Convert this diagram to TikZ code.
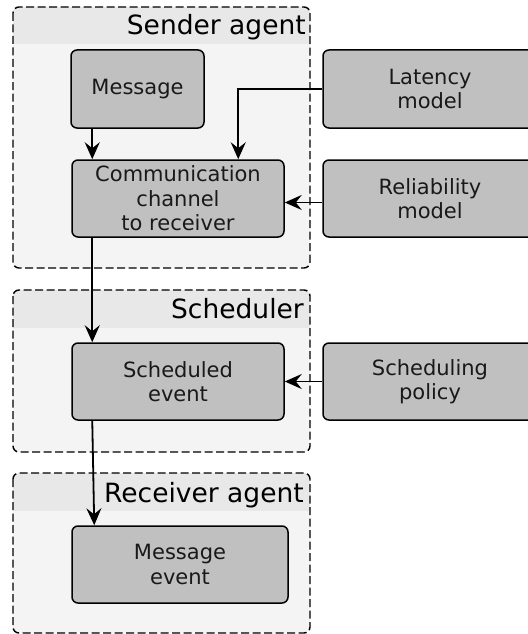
\documentclass[tikz,border=0pt]{standalone}
\usepackage{fontspec}
\setmainfont{DejaVu Sans}
\usetikzlibrary{arrows.meta}

\definecolor{boxgray}{HTML}{C0C0C0}
\definecolor{bodygray}{HTML}{F4F4F4}
\definecolor{headgray}{HTML}{E8E8E8}

\tikzset{
  block/.style={draw, line width=1.5pt, fill=boxgray, rounded corners=6pt,
    inner sep=0pt, align=center, text=black!90,
    font=\fontsize{21}{24.5}\selectfont},
  frame/.style={draw, dash pattern=on 8pt off 3.5pt, line width=1.4pt, rounded corners=6pt},
  heading/.style={anchor=base east, inner sep=0pt, font=\fontsize{26.5}{30}\selectfont},
  conn/.style={line width=1.8pt, -{Stealth[length=17pt,width=15pt,inset=6pt]}}
}

\begin{document}
\begin{tikzpicture}[x=1pt,y=-1pt]
 \useasboundingbox (0,0) rectangle (527,634);
 % containers
 \fill[bodygray, rounded corners=6pt] (13,7) rectangle (310,268);
 \begin{scope}
  \clip[rounded corners=6pt] (13,7) rectangle (310,268);
  \fill[headgray] (13,7) rectangle (310,44);
 \end{scope}
 \draw[frame] (13,7) rectangle (310,268);
 \node[heading] (tsend) at (306,35) {Sender agent};

 \fill[bodygray, rounded corners=6pt] (13,290) rectangle (310,452);
 \begin{scope}
  \clip[rounded corners=6pt] (13,290) rectangle (310,452);
  \fill[headgray] (13,290) rectangle (310,328);
 \end{scope}
 \draw[frame] (13,290) rectangle (310,452);
 \node[heading] (tsched) at (304,318) {Scheduler};

 \fill[bodygray, rounded corners=6pt] (13,473) rectangle (310,633);
 \begin{scope}
  \clip[rounded corners=6pt] (13,473) rectangle (310,633);
  \fill[headgray] (13,473) rectangle (310,511);
 \end{scope}
 \draw[frame] (13,473) rectangle (310,633);
 \node[heading] (trecv) at (304,502) {Receiver agent};

 % blocks
 \node[block, minimum width=133pt, minimum height=78pt] (msg) at (137.5,89) {Message};
 \node[block, minimum width=212pt, minimum height=77pt] (comm) at (178,198.5) {Communication\\channel\\to receiver};
 \node[block, minimum width=214pt, minimum height=78pt] (lat) at (430,89) {Latency\\model};
 \node[block, minimum width=214pt, minimum height=77pt] (rel) at (430,198.5) {Reliability\\model};
 \node[block, minimum width=212pt, minimum height=77pt] (sched) at (178,381.5) {Scheduled\\event};
 \node[block, minimum width=214pt, minimum height=77pt] (pol) at (430,381.5) {Scheduling\\policy};
 \node[block, minimum width=216pt, minimum height=77pt] (msgev) at (180,564.5) {Message\\event};

 % connectors
 \draw[conn] ([xshift=22pt]msg.south west) -- ([xshift=21pt]comm.north west);
 \draw[conn] (lat.west) -| ([xshift=167pt]comm.north west);
 \draw[conn] ([yshift=-4pt]rel.west) -- ([yshift=-4pt]comm.east);
 \draw[conn] ([xshift=21pt]comm.south west) -- ([xshift=21pt]sched.north west);
 \draw[conn] (pol.west) -- (sched.east);
 \draw[conn] ([xshift=21pt]sched.south west) -- ([xshift=23pt]msgev.north west);
\end{tikzpicture}
\end{document}
